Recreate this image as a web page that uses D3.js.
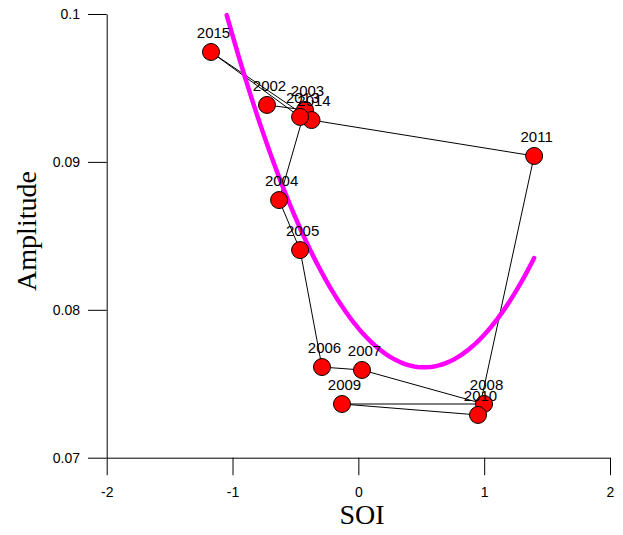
<!DOCTYPE html>
<html>
<head>
<meta charset="utf-8">
<script src="https://cdn.jsdelivr.net/npm/d3@7"></script>
<style>
  html, body { margin: 0; padding: 0; background: #fff; }
  svg { display: block; }
</style>
</head>
<body>
<svg id="chart" width="623" height="535"></svg>
<script>
// ---- data ----
const years = [2002, 2003, 2004, 2005, 2006, 2007, 2008, 2009, 2010, 2011, 2014, 2015, 2013];
const soi   = [-0.726, -0.424, -0.630, -0.463, -0.289, 0.029, 0.999, -0.130, 0.951, 1.397, -0.372, -1.171, -0.463];
const amp   = [0.09385, 0.09351, 0.08742, 0.08404, 0.07613, 0.07593, 0.07363, 0.07363, 0.07289, 0.0904, 0.09283, 0.09743, 0.09304];

// quadratic trend curve: amp = c0 + c1*soi + c2*soi^2, drawn over this SOI range
const fitCoef  = [0.078756, -0.010121, 0.009676];
const fitRange = [-1.046, 1.397];

const xMajorTicks = [-2, -1, 0, 1, 2];
const xMinorTicks = [-1.5, -0.5, 0.5, 1.5];
const yMajorTicks = [0.07, 0.08, 0.09, 0.1];
const yMinorTicks = [0.075, 0.085, 0.095];

// ---- drawing ----
const svg = d3.select("#chart");
const x = d3.scaleLinear().domain([-2, 2]).range([106.7, 610]);
const y = d3.scaleLinear().domain([0.07, 0.1]).range([457.7, 14]);

const tickFont = "'Liberation Sans', Arial, sans-serif";
const serif = "'Liberation Serif', 'Times New Roman', serif";
const fmt = d => String(d);

// x axis
const gx = svg.append("g").attr("transform", `translate(0,${y(0.07)})`);
gx.call(d3.axisBottom(x).tickValues(xMinorTicks).tickSize(8).tickSizeOuter(0).tickFormat(""));
gx.call(d3.axisBottom(x).tickValues(xMajorTicks).tickSize(17.5).tickSizeOuter(0).tickPadding(12).tickFormat(fmt));

// y axis
const gy = svg.append("g").attr("transform", `translate(${x(-2)},0)`);
gy.call(d3.axisLeft(y).tickValues(yMinorTicks).tickSize(10).tickSizeOuter(0).tickFormat(""));
gy.call(d3.axisLeft(y).tickValues(yMajorTicks).tickSize(18.7).tickSizeOuter(0).tickPadding(8).tickFormat(fmt));

svg.selectAll(".domain").attr("stroke", "#000").attr("stroke-width", 1);
svg.selectAll(".tick line").attr("stroke", "#000").attr("stroke-width", 1);
svg.selectAll(".tick text")
  .attr("font-family", tickFont)
  .attr("font-size", 14)
  .attr("fill", "#000");

// axis titles
svg.append("text")
  .attr("x", 362).attr("y", 524)
  .attr("text-anchor", "middle")
  .attr("font-family", serif)
  .attr("font-size", 28)
  .attr("fill", "#000")
  .text("SOI");

svg.append("text")
  .attr("transform", "translate(36,231) rotate(-90)")
  .attr("text-anchor", "middle")
  .attr("font-family", serif)
  .attr("font-size", 28)
  .attr("fill", "#000")
  .text("Amplitude");

// connecting lines (in data order)
const pts = years.map((yr, i) => ({ year: yr, s: soi[i], a: amp[i] }));
svg.append("path")
  .datum(pts)
  .attr("fill", "none")
  .attr("stroke", "#000")
  .attr("stroke-width", 1)
  .attr("d", d3.line().x(d => x(d.s)).y(d => y(d.a)));

// trend curve
const fitXs = d3.range(0, 101).map(i => fitRange[0] + (fitRange[1] - fitRange[0]) * i / 100);
svg.append("path")
  .datum(fitXs)
  .attr("fill", "none")
  .attr("stroke", "#FF00FF")
  .attr("stroke-width", 4.5)
  .attr("stroke-linecap", "round")
  .attr("d", d3.line().x(v => x(v)).y(v => y(fitCoef[0] + fitCoef[1] * v + fitCoef[2] * v * v)));

// points
svg.append("g").selectAll("circle")
  .data(pts).join("circle")
  .attr("cx", d => x(d.s)).attr("cy", d => y(d.a))
  .attr("r", 8.5)
  .attr("fill", "#FF0000")
  .attr("stroke", "#000")
  .attr("stroke-width", 1);

// year labels
svg.append("g").selectAll("text")
  .data(pts).join("text")
  .attr("x", d => x(d.s) + 2.5)
  .attr("y", d => y(d.a) - 14)
  .attr("text-anchor", "middle")
  .attr("font-family", tickFont)
  .attr("font-size", 15)
  .attr("fill", "#000")
  .text(d => d.year);
</script>
</body>
</html>
